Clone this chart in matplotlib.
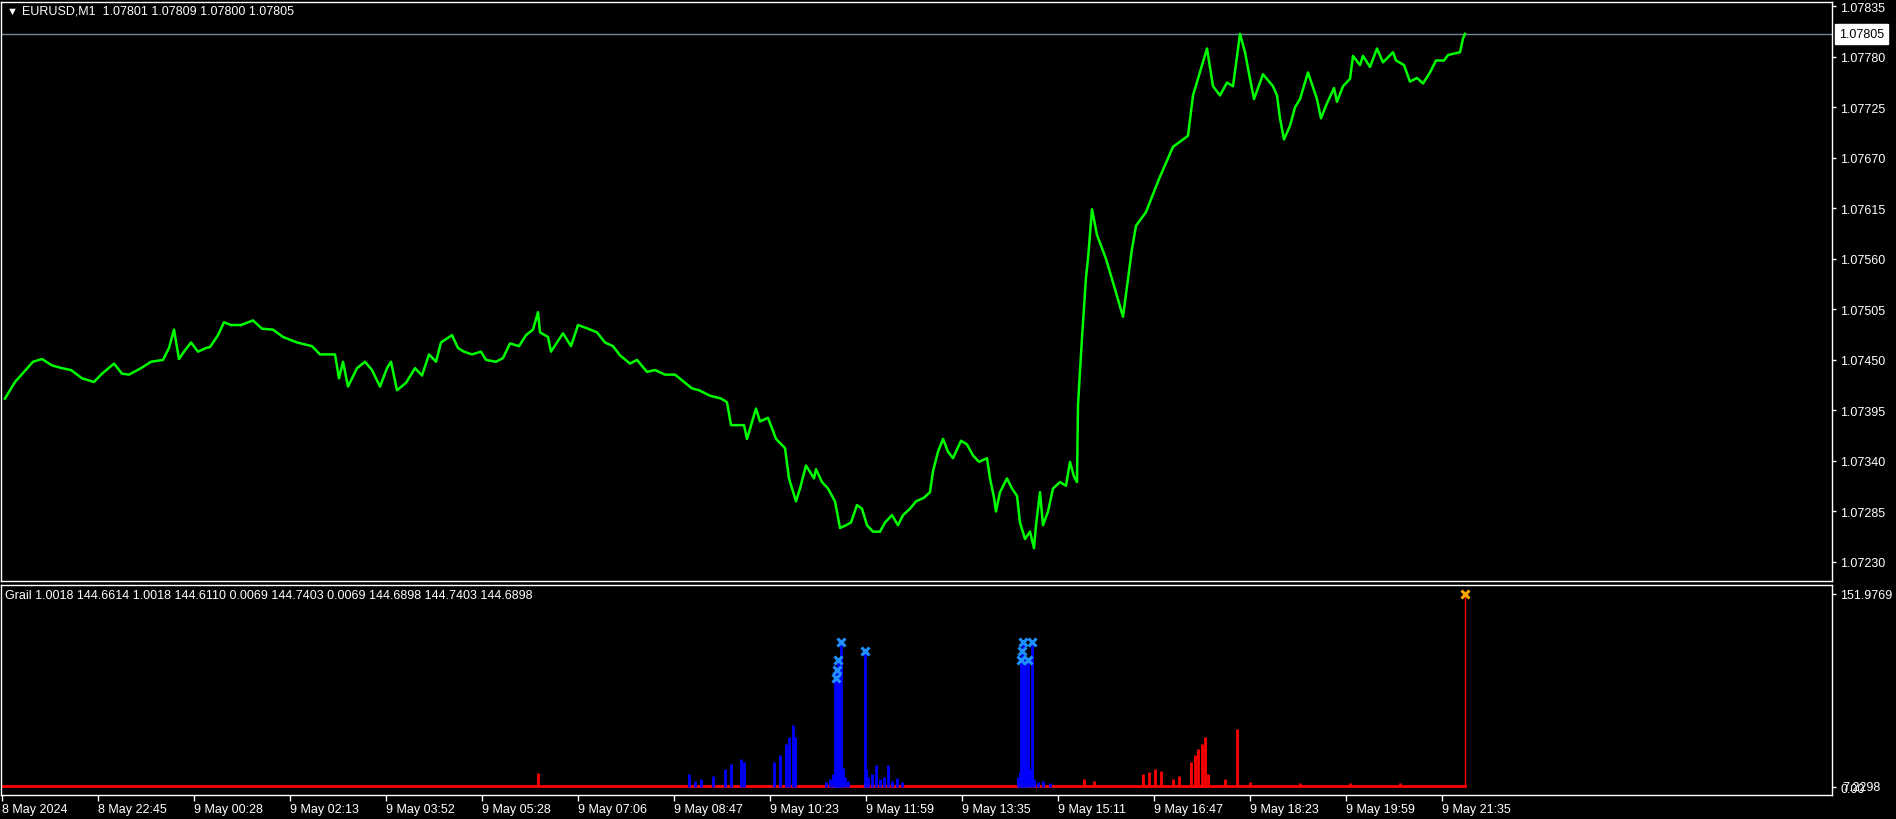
import matplotlib
matplotlib.use('Agg')
import matplotlib.pyplot as plt

plt.rcParams['font.family'] = ['Liberation Sans', 'DejaVu Sans']

# ---------------- data ----------------
symbol = 'EURUSD,M1'
last_ohlc = [1.07801, 1.07809, 1.07800, 1.07805]

price_bar = [5, 15, 24, 33, 42, 52, 62, 71, 82, 94,
             102, 114, 122, 129, 141, 151, 163, 169, 174, 179,
             184, 191, 198, 206, 210, 218, 224, 231, 241, 253,
             262, 273, 283, 297, 312, 320, 335, 339, 343, 348,
             357, 365, 372, 380, 387, 391, 397, 406, 415, 422,
             429, 436, 441, 452, 458, 464, 472, 481, 486, 496,
             503, 510, 519, 526, 533, 538, 540, 548, 551, 557,
             563, 571, 578, 588, 597, 605, 613, 620, 630, 637,
             647, 655, 665, 675, 684, 692, 699, 710, 721, 727,
             731, 744, 747, 756, 760, 768, 776, 785, 789, 796,
             800, 806, 814, 816, 822, 828, 835, 840, 846, 851,
             857, 862, 867, 873, 880, 885, 892, 898, 903, 910,
             916, 924, 930, 933, 938, 943, 948, 953, 961, 967,
             973, 979, 987, 990, 994, 996, 1000, 1007, 1012, 1017,
             1020, 1025, 1030, 1034, 1036, 1040, 1043, 1048, 1053, 1060,
             1066, 1070, 1074, 1077, 1078, 1080, 1082, 1086, 1088, 1092,
             1097, 1106, 1115, 1123, 1132, 1136, 1146, 1159, 1173, 1188,
             1193, 1207, 1213, 1220, 1227, 1233, 1240, 1245, 1250, 1254,
             1263, 1273, 1277, 1280, 1284, 1290, 1295, 1300, 1308, 1317,
             1321, 1326, 1334, 1337, 1343, 1350, 1353, 1360, 1363, 1370,
             1377, 1383, 1393, 1396, 1404, 1410, 1417, 1423, 1430, 1436,
             1444, 1448, 1460, 1463, 1465]

price_close = [1.07408, 1.07426, 1.07437, 1.07448, 1.07451, 1.07444, 1.07441, 1.07439, 1.07430, 1.07426,
               1.07435, 1.07446, 1.07435, 1.07434, 1.07441, 1.07448, 1.07450, 1.07463, 1.07483, 1.07451,
               1.07459, 1.07469, 1.07459, 1.07463, 1.07464, 1.07477, 1.07491, 1.07488, 1.07488, 1.07493,
               1.07484, 1.07483, 1.07475, 1.07469, 1.07465, 1.07456, 1.07456, 1.07430, 1.07448, 1.07421,
               1.07441, 1.07448, 1.07439, 1.07421, 1.07441, 1.07448, 1.07417, 1.07425, 1.07441, 1.07433,
               1.07456, 1.07448, 1.07469, 1.07477, 1.07463, 1.07459, 1.07456, 1.07459, 1.07450, 1.07448,
               1.07452, 1.07468, 1.07465, 1.07477, 1.07483, 1.07502, 1.07480, 1.07475, 1.07459, 1.07469,
               1.07479, 1.07465, 1.07488, 1.07484, 1.07480, 1.07469, 1.07465, 1.07455, 1.07446, 1.07450,
               1.07437, 1.07439, 1.07434, 1.07434, 1.07426, 1.07419, 1.07417, 1.07411, 1.07408, 1.07404,
               1.07379, 1.07379, 1.07364, 1.07397, 1.07383, 1.07387, 1.07364, 1.07354, 1.07321, 1.07296,
               1.07310, 1.07335, 1.07321, 1.07331, 1.07317, 1.07310, 1.07296, 1.07267, 1.07270, 1.07273,
               1.07292, 1.07288, 1.07270, 1.07263, 1.07263, 1.07273, 1.07281, 1.07270, 1.07281, 1.07288,
               1.07296, 1.07300, 1.07306, 1.07329, 1.07350, 1.07364, 1.07350, 1.07343, 1.07362, 1.07358,
               1.07346, 1.07339, 1.07343, 1.07321, 1.07300, 1.07285, 1.07306, 1.07321, 1.07310, 1.07302,
               1.07273, 1.07255, 1.07263, 1.07245, 1.07270, 1.07306, 1.07270, 1.07285, 1.07310, 1.07317,
               1.07313, 1.07339, 1.07323, 1.07317, 1.07401, 1.07437, 1.07474, 1.07540, 1.07560, 1.07614,
               1.07586, 1.07560, 1.07527, 1.07497, 1.07571, 1.07596, 1.07611, 1.07647, 1.07682, 1.07694,
               1.07738, 1.07789, 1.07748, 1.07738, 1.07752, 1.07748, 1.07805, 1.07785, 1.07756, 1.07734,
               1.07761, 1.07748, 1.07738, 1.07713, 1.07690, 1.07705, 1.07725, 1.07734, 1.07763, 1.07734,
               1.07713, 1.07727, 1.07746, 1.07731, 1.07748, 1.07756, 1.07781, 1.07771, 1.07781, 1.07769,
               1.07789, 1.07774, 1.07785, 1.07776, 1.07771, 1.07753, 1.07757, 1.07751, 1.07763, 1.07776,
               1.07776, 1.07782, 1.07785, 1.07800, 1.07805]

price_ticks = [1.07230, 1.07285, 1.07340, 1.07395, 1.07450, 1.07505,
               1.07560, 1.07615, 1.07670, 1.07725, 1.07780, 1.07835]

time_labels = ['8 May 2024', '8 May 22:45', '9 May 00:28', '9 May 02:13', '9 May 03:52',
               '9 May 05:28', '9 May 07:06', '9 May 08:47', '9 May 10:23', '9 May 11:59',
               '9 May 13:35', '9 May 15:11', '9 May 16:47', '9 May 18:23', '9 May 19:59',
               '9 May 21:35']
first_tick_bar = 2
tick_step = 96

grail_name = 'Grail'
grail_values = ['1.0018', '144.6614', '1.0018', '144.6110', '0.0069', '144.7403',
                '0.0069', '144.6898', '144.7403', '144.6898']
grail_max = 151.9769
grail_min_label = '7.2298'
grail_base = 1.0

blue_bar = [689, 695, 701, 713, 725, 731, 741, 744,
            774, 780, 786, 789, 793, 795,
            826, 830, 833, 835, 836, 837, 838, 839, 840, 841,
            843, 845, 848,
            865, 866, 868, 872, 876, 880, 884, 888, 892, 897, 902,
            1018, 1020, 1021, 1022, 1023, 1024, 1025, 1026, 1028, 1030,
            1032, 1034, 1038, 1043, 1050]
blue_val = [10, 5, 6, 9, 14, 18, 22, 20,
            20, 25, 34, 39, 49, 39,
            4, 6, 10, 86, 86, 92, 100, 100, 20, 114,
            15, 8, 5,
            107, 14, 8, 10, 17, 6, 8, 17, 5, 7, 4,
            8, 12, 100, 107, 114, 100, 100, 18, 100, 14,
            114, 6, 4, 5, 3]

red_bar = [538, 1084, 1094, 1143, 1149, 1155, 1161, 1173, 1179, 1191,
           1195, 1198, 1202, 1205, 1208, 1225, 1237, 1250, 1300, 1350,
           1400, 1465]
red_val = [11, 6, 5, 10, 12, 14, 13, 6, 9, 20,
           25, 30, 34, 39, 10, 6, 46, 4, 3, 3,
           3, 151.9769]

mark_bar = [836, 837, 838, 841, 865, 1021, 1022, 1023, 1028, 1032]
mark_val = [86, 92, 100, 114, 107, 100, 107, 114, 100, 114]

# ---------------- layout ----------------
W, H = 1896, 820
fig = plt.figure(figsize=(W / 100, H / 100), dpi=100, facecolor='black')


def rect(x0, y0, x1, y1):
    return [x0 / W, 1 - y1 / H, (x1 - x0) / W, (y1 - y0) / H]


ax1 = fig.add_axes(rect(1, 3, 1832, 582))
ax2 = fig.add_axes(rect(1, 586, 1832, 796))

for ax in (ax1, ax2):
    ax.set_facecolor('black')
    for s in ax.spines.values():
        s.set_color('white')
        s.set_linewidth(1)
    ax.set_xlim(1, 1832)

# ---------------- price panel ----------------
last_price = price_close[-1]
ax1.axhline(last_price, color='#778899', lw=1)
ax1.plot(price_bar, price_close, color='#00FF00', lw=1.8)
ax1.set_ylim(1.072093, 1.078397)
ax1.yaxis.tick_right()
ax1.set_yticks(price_ticks)
ax1.set_yticklabels([f'{v:.5f}' for v in price_ticks])
ax1.tick_params(axis='y', colors='white', length=3, width=1, pad=3, labelsize=9)
ax1.set_xticks([])
ax1.annotate(f'{last_price:.5f}', xy=(1, last_price), xycoords=('axes fraction', 'data'),
             xytext=(5, 0), textcoords='offset points', ha='left', va='center',
             fontsize=9, color='black', annotation_clip=False,
             bbox=dict(boxstyle='square,pad=0.3', fc='white', ec='white'))

fig.text(7 / W, 1 - 12 / H, '\u25BC', color='white', fontsize=8, va='center', ha='left')
fig.text(22 / W, 1 - 12 / H, symbol + '  ' + ' '.join(f'{v:.5f}' for v in last_ohlc),
         color='white', fontsize=9, va='center', ha='left')

# ---------------- indicator panel ----------------
ax2.plot([price_bar[0] - 5, red_bar[-1]], [grail_base, grail_base], color='#FF0000', lw=2)
ax2.vlines(blue_bar, 0, blue_val, color='#0000FF', lw=2)
ax2.vlines(red_bar[:-1], 0, red_val[:-1], color='#FF0000', lw=2)
ax2.vlines(red_bar[-1:], 0, red_val[-1:], color='#FF0000', lw=1)
ax2.plot(mark_bar, mark_val, 'x', color='#1E90FF', ms=6, mew=2.2, linestyle='none')
ax2.plot(red_bar[-1:], red_val[-1:], 'x', color='#FFA500', ms=6, mew=2.2, linestyle='none')
ax2.set_ylim(-6.27, 159.0)
ax2.yaxis.tick_right()
ax2.set_yticks([grail_max, 0])
ax2.set_yticklabels([f'{grail_max:.4f}', '0.00'])
ax2.tick_params(axis='y', colors='white', length=3, width=1, pad=3, labelsize=9)
# overlapping minimum label as drawn by the terminal
ax2.annotate(grail_min_label, xy=(1, 0), xycoords=('axes fraction', 'data'),
             xytext=(7.5, 0), textcoords='offset points', ha='left', va='center',
             fontsize=9, color='white', annotation_clip=False)

tick_pos = [first_tick_bar + tick_step * i for i in range(len(time_labels))]
ax2.set_xticks(tick_pos)
ax2.set_xticklabels(time_labels, ha='left')
ax2.tick_params(axis='x', colors='white', length=4, width=1, pad=2, labelsize=9)

fig.text(5 / W, 1 - 596 / H, grail_name + ' ' + ' '.join(grail_values),
         color='white', fontsize=9, va='center', ha='left')

fig.savefig('out.png', dpi=100, facecolor='black')
